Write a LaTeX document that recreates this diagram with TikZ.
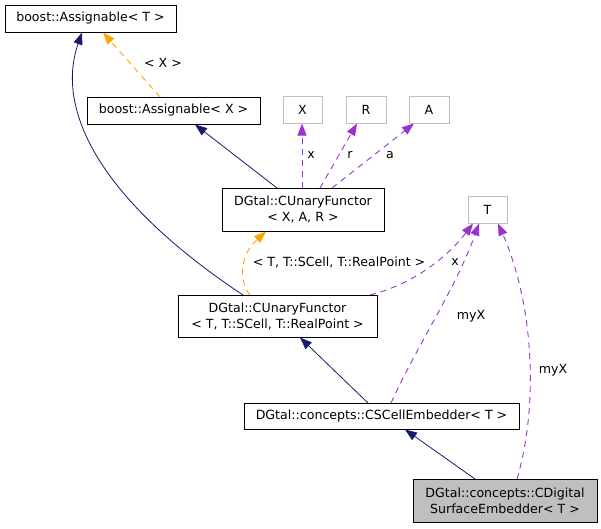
\documentclass[tikz,border=0pt]{standalone}
\usepackage{fontspec}
\setmainfont{DejaVu Sans}
\usetikzlibrary{arrows.meta}
\definecolor{navyc}{HTML}{191970}
\definecolor{orangec}{HTML}{FFA500}
\definecolor{purplec}{HTML}{9A32CD}
\definecolor{greyb}{HTML}{BFBFBF}
\begin{document}
\begin{tikzpicture}[x=1pt,y=-1pt,
  box/.style={draw=black,line width=0.9pt,fill=white,inner sep=0pt,align=center,font=\fontsize{12.6}{16}\selectfont},
  gbox/.style={draw=greyb,line width=0.9pt,fill=white,inner sep=0pt,align=center,font=\fontsize{12.6}{16}\selectfont},
  inh/.style={draw=navyc,line width=0.8pt,-{Triangle[length=12pt,width=9pt]}},
  tmpl/.style={draw=orangec,line width=0.9pt,dash pattern=on 6pt off 5pt,-{Triangle[length=12pt,width=9pt]}},
  usage/.style={draw=purplec,line width=0.9pt,dash pattern=on 6pt off 5pt,-{Triangle[length=12pt,width=9pt]}},
  lbl/.style={font=\fontsize{12.6}{15}\selectfont,inner sep=0pt}]
\useasboundingbox[fill=white] (0,0) rectangle (601,528);

\node[box,minimum width=171pt,minimum height=27pt] (AT) at (90.5,18.5) {boost::Assignable< T >};
\node[box,minimum width=173pt,minimum height=27pt] (AX) at (173.5,110.5) {boost::Assignable< X >};
\node[gbox,minimum width=39pt,minimum height=27pt] (X) at (302.5,110) {X};
\node[gbox,minimum width=40pt,minimum height=27pt] (R) at (366,110) {R};
\node[gbox,minimum width=40pt,minimum height=27pt] (A) at (429,110) {A};
\node[box,minimum width=162pt,minimum height=43pt] (CX) at (303,209.5) {DGtal::CUnaryFunctor\\< X, A, R >};
\node[gbox,minimum width=39pt,minimum height=27pt] (T) at (487.5,209.5) {T};
\node[box,minimum width=199pt,minimum height=42pt] (CT) at (277.5,316.5) {DGtal::CUnaryFunctor\\< T, T::SCell, T::RealPoint >};
\node[box,minimum width=275pt,minimum height=26pt] (CS) at (381.5,416) {DGtal::concepts::CSCellEmbedder< T >};
\node[box,fill=greyb,minimum width=184pt,minimum height=43pt] (CD) at (505,500.5) {DGtal::concepts::CDigital\\SurfaceEmbedder< T >};

\coordinate (ATb1) at (82,32.5);
\coordinate (ATb2) at (103,32.5);

\draw[tmpl] (160,97) -- (ATb2);
\node[lbl] (lX) at (163,63) {< X >};

\draw[inh] (243,295) .. controls (100,200) and (55,110) .. (ATb1);

\draw[inh] (277,188) -- (195,124.5);

\draw[usage] (302,188) -- (302,123.5);
\node[lbl] (lx1) at (311,155) {x};
\draw[usage] (320,188) -- (357,123.5);
\node[lbl] (lr) at (350,155) {r};
\draw[usage] (332,188) -- (414,123.5);
\node[lbl] (la) at (390,155) {a};

\draw[tmpl] (250,295) .. controls (238,280) and (240,255) .. (266,231.5);
\node[lbl] (lT) at (339,262) {< T, T::SCell, T::RealPoint >};

\draw[usage] (370,295) .. controls (410,285) and (445,260) .. (473,223.5);
\node[lbl] (lx2) at (455,262) {x};

\draw[inh] (368,403) -- (300,337.5);
\draw[usage] (391,403) .. controls (420,340) and (455,290) .. (479,223.5);
\node[lbl] (lm1) at (471,316) {myX};

\draw[inh] (475,479) -- (405,429.5);
\draw[usage] (517,479) .. controls (540,400) and (532,300) .. (498,223.5);
\node[lbl] (lm2) at (553,370) {myX};
\end{tikzpicture}
\end{document}
